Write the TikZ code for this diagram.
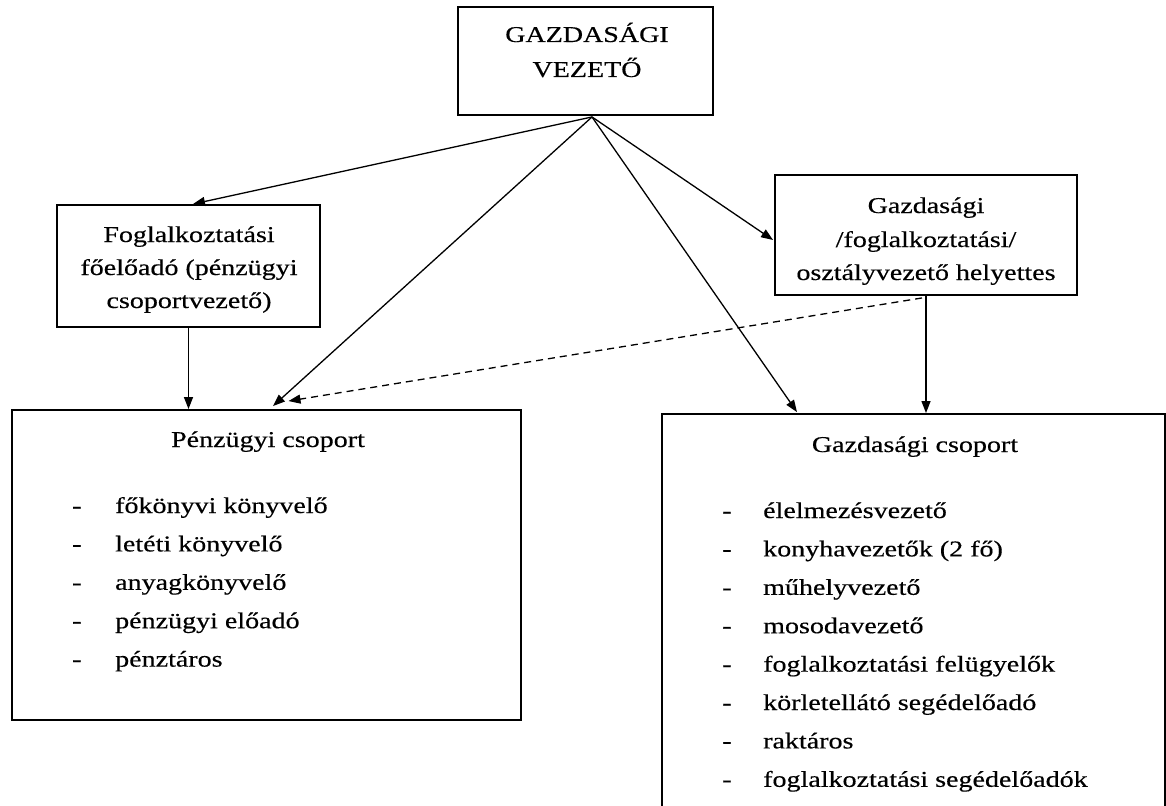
\documentclass[tikz,border=0pt]{standalone}
\usepackage{fontspec}
\setmainfont{Liberation Serif}[FakeStretch=1.24,FakeBold=0.4]
\usetikzlibrary{arrows.meta,calc}
\begin{document}
\begin{tikzpicture}[x=1pt,y=-1pt,
  box/.style={draw,line width=1.9pt,inner sep=0pt},
  lbl/.style={anchor=base,inner sep=0pt,font=\fontsize{22.6pt}{27pt}\selectfont},
  item/.style={anchor=base west,inner sep=0pt,font=\fontsize{22.6pt}{27pt}\selectfont},
  conn/.style={line width=1.3pt,-{Triangle[length=12pt,width=9pt]}},
  dconn/.style={conn,dash pattern=on 7pt off 5pt}]
\clip (0,0) rectangle (1166,805);
\fill[white] (0,0) rectangle (1166,805);
% boxes
\node[box,minimum width=255pt,minimum height=108pt] (top) at (585.5,61) {};
\node[box,minimum width=263pt,minimum height=122pt] (foglal) at (188.5,266) {};
\node[box,minimum width=302pt,minimum height=120pt] (gazdh) at (926,235) {};
\node[box,minimum width=509pt,minimum height=310pt] (penz) at (266.5,565) {};
\node[box,minimum width=503pt,minimum height=416pt] (gcs) at (913.5,622) {};
% texts
\node[lbl] (t1) at (587,42) {GAZDASÁGI};
\node[lbl] (t2) at (587,77) {VEZETŐ};
\node[lbl] (f1) at (189,242) {Foglalkoztatási};
\node[lbl] (f2) at (189,275) {főelőadó (pénzügyi};
\node[lbl] (f3) at (189,308) {csoportvezető)};
\node[lbl] (g1) at (926,213) {Gazdasági};
\node[lbl] (g2) at (926,247) {/foglalkoztatási/};
\node[lbl] (g3) at (926,280) {osztályvezető helyettes};
\node[lbl] (pt) at (268,447) {Pénzügyi csoport};
\node[lbl] (gt) at (915,452) {Gazdasági csoport};
% left list
\foreach \y/\txt [count=\i] in {513/főkönyvi könyvelő,551.4/letéti könyvelő,589.8/anyagkönyvelő,628.2/pénzügyi előadó,666.6/pénztáros}{
  \node[item] (pd\i) at (72,\y) {-};
  \node[item] (pi\i) at (115,\y) {\txt};
}
% right list
\foreach \y/\txt [count=\i] in {518/élelmezésvezető,556.4/konyhavezetők (2 fő),594.8/műhelyvezető,633.2/mosodavezető,671.6/foglalkoztatási felügyelők,710/körletellátó segédelőadó,748.4/raktáros,786.8/foglalkoztatási segédelőadók}{
  \node[item] (gd\i) at (722,\y) {-};
  \node[item] (gi\i) at (763,\y) {\txt};
}
% connectors
\coordinate (o) at ($(top.south)+(6.5,1)$);
\draw[conn] (o) -- ($(foglal.north)+(4.5,0)$);
\draw[conn] (o) -- ($(penz.north)+(6.5,-3)$);
\draw[conn] (o) -- ($(gazdh.west)+(-1,5)$);
\draw[conn] (o) -- ($(gcs.north)+(-116.5,-1)$);
\draw[conn] (foglal.south) -- (foglal.south |- penz.north);
\draw[conn] (gazdh.south) -- (gazdh.south |- gcs.north);
\draw[dconn] ($(gazdh.south)+(-4,2)$) -- ($(penz.north)+(22,-8)$);
\end{tikzpicture}
\end{document}
